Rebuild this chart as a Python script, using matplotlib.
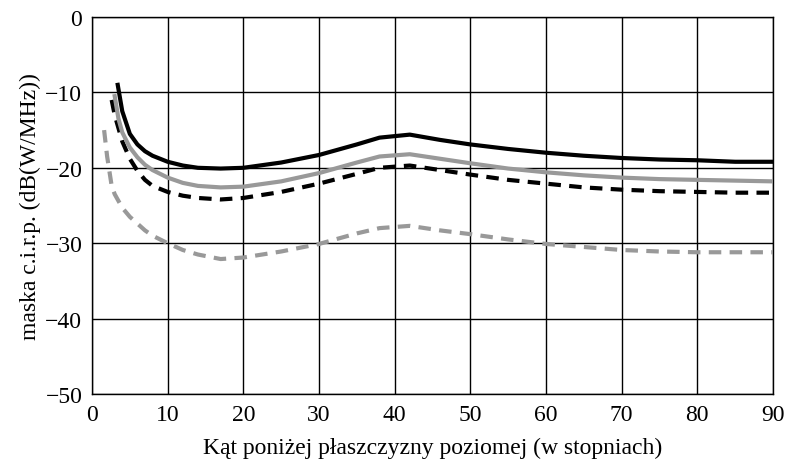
import matplotlib
matplotlib.use("Agg")
import matplotlib.pyplot as plt

plt.rcParams['font.family'] = ['Liberation Serif', 'DejaVu Serif']

# Black solid
x_bs = [3.4, 4, 5, 6, 7, 8, 10, 12, 14, 17, 20, 25, 30, 35, 38, 42, 46, 50, 55, 60, 65, 70, 75, 80, 85, 90]
y_bs = [-9, -12.5, -15.5, -16.9, -17.8, -18.4, -19.2, -19.7, -20.0, -20.1, -20.0, -19.3, -18.3, -16.9,
        -16.0, -15.6, -16.3, -16.9, -17.5, -18.0, -18.4, -18.7, -18.9, -19.0, -19.2, -19.2]
# Gray solid
x_gs = [3.0, 3.5, 4, 5, 6, 7, 8, 10, 12, 14, 17, 20, 25, 30, 35, 38, 42, 46, 50, 55, 60, 65, 70, 75, 80, 85, 90]
y_gs = [-10.5, -13.5, -15.3, -17.3, -18.6, -19.6, -20.3, -21.3, -22.0, -22.4, -22.6, -22.5, -21.8, -20.7,
        -19.3, -18.5, -18.2, -18.8, -19.4, -20.1, -20.6, -21.0, -21.3, -21.5, -21.6, -21.7, -21.8]
# Black dashed
x_bd = [2.6, 3, 4, 5, 6, 7, 8, 10, 12, 14, 17, 20, 25, 30, 35, 38, 42, 46, 50, 55, 60, 65, 70, 75, 80, 85, 90]
y_bd = [-11, -13, -16.5, -18.8, -20.4, -21.6, -22.4, -23.2, -23.7, -24.0, -24.2, -24.0, -23.2, -22.1,
        -20.8, -20.0, -19.7, -20.3, -20.9, -21.6, -22.1, -22.6, -22.9, -23.1, -23.2, -23.3, -23.3]
# Gray dashed
x_gd = [1.6, 2, 2.6, 3, 4, 5, 6, 7, 8, 10, 12, 14, 17, 20, 25, 30, 35, 38, 42, 46, 50, 55, 60, 65, 70,
        75, 80, 85, 90]
y_gd = [-15, -18.5, -22.4, -23.5, -25.3, -26.5, -27.4, -28.3, -29.0, -30.0, -30.9, -31.5, -32.1, -31.9,
        -31.1, -30.1, -28.7, -28.0, -27.7, -28.3, -28.8, -29.5, -30.1, -30.5, -30.9, -31.1, -31.2, -31.2, -31.2]

x_ticks = [0, 10, 20, 30, 40, 50, 60, 70, 80, 90]
y_ticks = [0, -10, -20, -30, -40, -50]

fig = plt.figure(figsize=(7.87, 4.64), dpi=100)
ax = fig.add_axes([0.1169, 0.1487, 0.8653, 0.8125])

gray = '#999999'
ax.plot(x_gd, y_gd, color=gray, lw=3.0, linestyle=(0, (3.0, 2.0)), zorder=3)
ax.plot(x_bd, y_bd, color='black', lw=3.0, linestyle=(0, (3.0, 2.0)), zorder=3)
ax.plot(x_gs, y_gs, color=gray, lw=3.0, zorder=3)
ax.plot(x_bs, y_bs, color='black', lw=3.0, zorder=4)

ax.set_xlim(0, 90)
ax.set_ylim(-50, 0)
ax.set_xticks(x_ticks)
ax.set_yticks(y_ticks)
ax.set_yticklabels(['0' if v == 0 else '\u2212' + str(-v) for v in y_ticks])
ax.grid(True, color='black', lw=1.0)
ax.tick_params(length=0, labelsize=17, pad=7)
for s in ax.spines.values():
    s.set_color('black')
    s.set_linewidth(1.0)

ax.set_xlabel('Kąt poniżej płaszczyzny poziomej (w stopniach)', fontsize=17, labelpad=9)
ax.set_ylabel('maska c.i.r.p. (dB(W/MHz))', fontsize=17, labelpad=3)

fig.savefig('out.png', dpi=100)
